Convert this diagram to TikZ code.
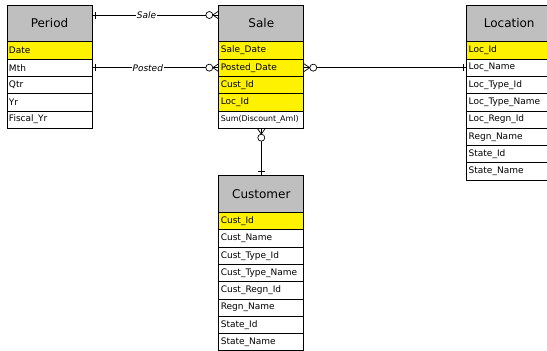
\documentclass[tikz,border=0pt]{standalone}
\usepackage{fontspec}
\setmainfont{DejaVu Sans}
\usetikzlibrary{positioning}

\tikzset{
    one/.pic={\draw (-3.8,-3.5) -- (-3.8,3.5);},
    manyopt/.pic={\draw (-6,0) -- (0,4) (-6,0) -- (0,-4);
                  \draw[fill=white] (-9.5,0) circle (3.5);}
}

\begin{document}
\begin{tikzpicture}[x=1pt, y=-1pt, line width=0.7pt,
        ent/.style = {draw, fill=gray!50, minimum width=85pt, minimum height=36.8pt,
                      outer sep=0pt, font=\fontsize{12}{14}\selectfont},
        att/.style = {draw, fill=white, minimum width=85pt, minimum height=17.3pt,
                      text width=81pt, inner xsep=2pt, align=left, outer sep=0pt,
                      font=\fontsize{9}{10}\selectfont},
        key/.style = {att, fill=yellow},
        rel/.style = {fill=white, inner sep=1pt, font=\itshape\fontsize{9}{10}\selectfont}]
	\useasboundingbox (0,0) rectangle (547,351);

	% Period
	\node[ent] (period) at (49.5,23.3) {Period};
	\node[key, below=0pt of period] (period-date) {Date};
	\node[att, below=0pt of period-date] (period-mth) {Mth};
	\node[att, below=0pt of period-mth] (period-qtr) {Qtr};
	\node[att, below=0pt of period-qtr] (period-yr) {Yr};
	\node[att, below=0pt of period-yr] (period-fyr) {Fiscal\_Yr};

	% Sale
	\node[ent] (sale) at (261.3,23.3) {Sale};
	\node[key, below=0pt of sale] (sale-date) {Sale\_Date};
	\node[key, below=0pt of sale-date] (sale-posted) {Posted\_Date};
	\node[key, below=0pt of sale-posted] (sale-cust) {Cust\_Id};
	\node[key, below=0pt of sale-cust] (sale-loc) {Loc\_Id};
	\node[att, below=0pt of sale-loc, font=\fontsize{7.9}{9}\selectfont] (sale-sum) {Sum(Discount\_Aml)};

	% Location
	\node[ent] (loc) at (509.2,23.3) {Location};
	\node[key, below=0pt of loc] (loc-id) {Loc\_Id};
	\node[att, below=0pt of loc-id] (loc-name) {Loc\_Name};
	\node[att, below=0pt of loc-name] (loc-typeid) {Loc\_Type\_Id};
	\node[att, below=0pt of loc-typeid] (loc-typename) {Loc\_Type\_Name};
	\node[att, below=0pt of loc-typename] (loc-regnid) {Loc\_Regn\_Id};
	\node[att, below=0pt of loc-regnid] (loc-regnname) {Regn\_Name};
	\node[att, below=0pt of loc-regnname] (loc-stateid) {State\_Id};
	\node[att, below=0pt of loc-stateid] (loc-statename) {State\_Name};

	% Customer
	\node[ent] (cust) at (261.3,194) {Customer};
	\node[key, below=0pt of cust] (cust-id) {Cust\_Id};
	\node[att, below=0pt of cust-id] (cust-name) {Cust\_Name};
	\node[att, below=0pt of cust-name] (cust-typeid) {Cust\_Type\_Id};
	\node[att, below=0pt of cust-typeid] (cust-typename) {Cust\_Type\_Name};
	\node[att, below=0pt of cust-typename] (cust-regnid) {Cust\_Regn\_Id};
	\node[att, below=0pt of cust-regnid] (cust-regnname) {Regn\_Name};
	\node[att, below=0pt of cust-regnname] (cust-stateid) {State\_Id};
	\node[att, below=0pt of cust-stateid] (cust-statename) {State\_Name};

	% relationships
	\coordinate (sale-a) at (period.east |- 0,15);
	\coordinate (sale-b) at (sale.west |- 0,15);
	\draw (sale-a) -- node[rel, pos=0.43] {Sale} (sale-b);
	\draw (period-mth.east) -- node[rel, pos=0.44] {Posted} (sale-posted.west);
	\draw (sale-posted.east) -- (loc-name.west);
	\draw (sale-sum.south) -- (cust.north);

	\path (sale-a) pic[rotate=180] {one};
	\path (sale-b) pic {manyopt};
	\path (period-mth.east) pic[rotate=180] {one};
	\path (sale-posted.west) pic {manyopt};
	\path (sale-posted.east) pic[rotate=180] {manyopt};
	\path (loc-name.west) pic {one};
	\path (sale-sum.south) pic[rotate=90] {manyopt};
	\path (cust.north) pic[rotate=-90] {one};
\end{tikzpicture}
\end{document}
